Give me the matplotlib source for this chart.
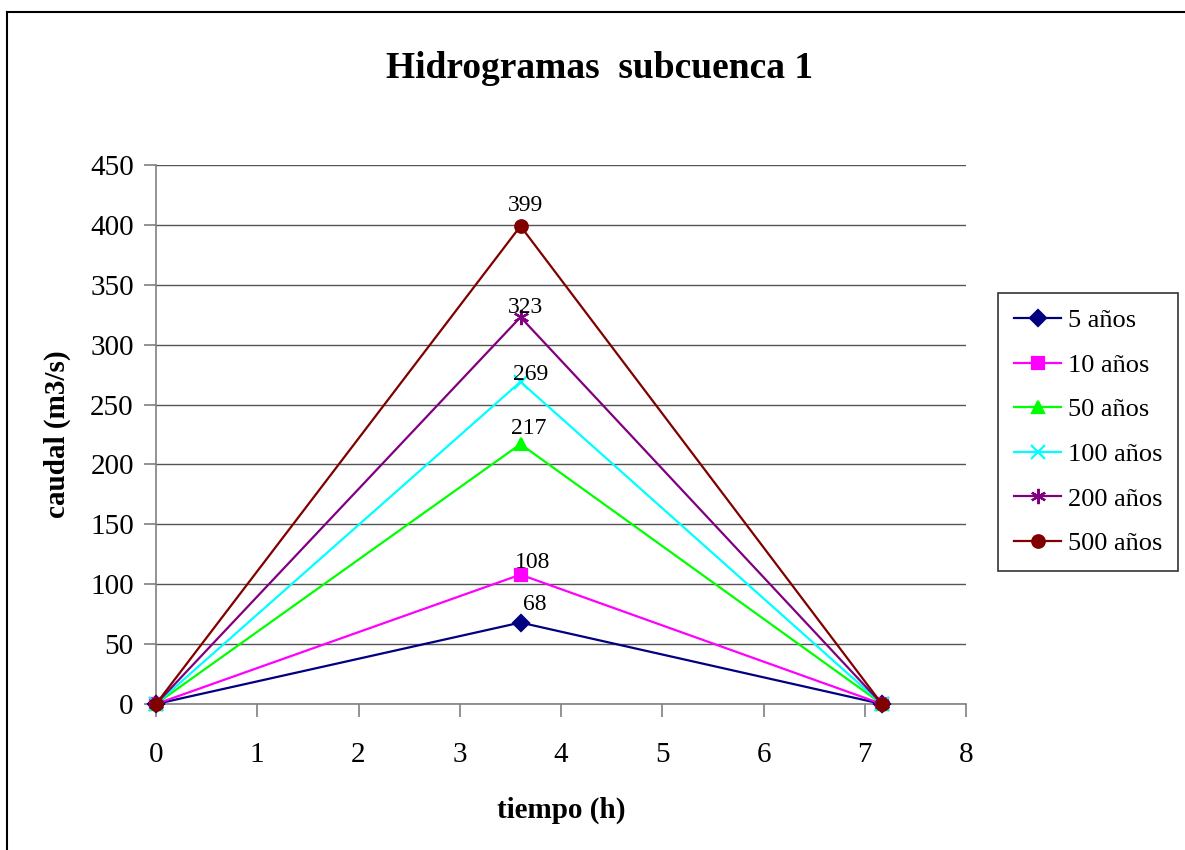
import numpy as np
import matplotlib.pyplot as plt
from matplotlib.lines import Line2D

# data
tiempo = [0, 3.6, 7.17]
series = ['5 años', '10 años', '50 años', '100 años', '200 años', '500 años']
picos = [68, 108, 217, 269, 323, 399]

colores = ['#000080', '#FF00FF', '#00FF00', '#00FFFF', '#800080', '#800000']
marcas = ['D', 's', '^', 'x', (6, 2, 0), 'o']
tam = [8, 8, 9, 10, 11, 9]
# label offsets (points) to place the numbers like the original
offs = [(10, 9), (9, 5), (6, 7), (7, 1.5), (3.5, 3), (3.5, 11)]

plt.rcParams['font.family'] = ['Liberation Serif', 'DejaVu Serif']

fig = plt.figure(figsize=(11.85, 8.5), dpi=100)
ax = fig.add_axes([156 / 1185, 1 - 704 / 850, 810 / 1185, 539 / 850])

for nom, p, c, m, s, o in zip(series, picos, colores, marcas, tam, offs):
    y = [0, p, 0]
    ax.plot(tiempo, y, color=c, lw=1.6, marker=m, markersize=s,
            markeredgewidth=1.6, label=nom, clip_on=False, zorder=3)
    ax.annotate(str(p), (tiempo[1], p), xytext=o, textcoords='offset points',
                ha='center', va='baseline', fontsize=17)

ax.set_xlim(0, 8)
ax.set_ylim(0, 450)
ax.set_xticks(np.arange(0, 9, 1))
ax.set_yticks(np.arange(0, 451, 50))
ax.yaxis.grid(True, color='#555555', lw=1)
ax.set_axisbelow(True)
for sp in ['top', 'right']:
    ax.spines[sp].set_visible(False)
for sp in ['left', 'bottom']:
    ax.spines[sp].set_color('#808080')
    ax.spines[sp].set_linewidth(1.2)
ax.tick_params(axis='both', direction='out', length=9, width=1.2,
               color='#808080', labelsize=21, pad=7)
ax.tick_params(axis='x', pad=18)

ax.set_xlabel('tiempo (h)', fontsize=21, fontweight='bold', labelpad=21)
ax.set_ylabel('caudal (m3/s)', fontsize=21, fontweight='bold', labelpad=14)
fig.text(600 / 1185, 1 - 68 / 850, 'Hidrogramas  subcuenca 1', ha='center',
         va='center', fontsize=27, fontweight='bold')

leg = ax.legend(loc='upper left', bbox_to_anchor=(998 / 1185, 1 - 293 / 850),
                bbox_transform=fig.transFigure, borderaxespad=0,
                fontsize=19, frameon=True, fancybox=False, edgecolor='black',
                handlelength=1.8, labelspacing=0.8, handletextpad=0.25,
                borderpad=0.6)
leg.get_frame().set_linewidth(1.2)

# outer chart border
fig.add_artist(Line2D([7 / 1185, 7 / 1185], [0, 1 - 12 / 850],
                      transform=fig.transFigure, color='black', lw=1.5))
fig.add_artist(Line2D([7 / 1185, 1], [1 - 12 / 850, 1 - 12 / 850],
                      transform=fig.transFigure, color='black', lw=1.5))

fig.savefig('out.png', dpi=100)
